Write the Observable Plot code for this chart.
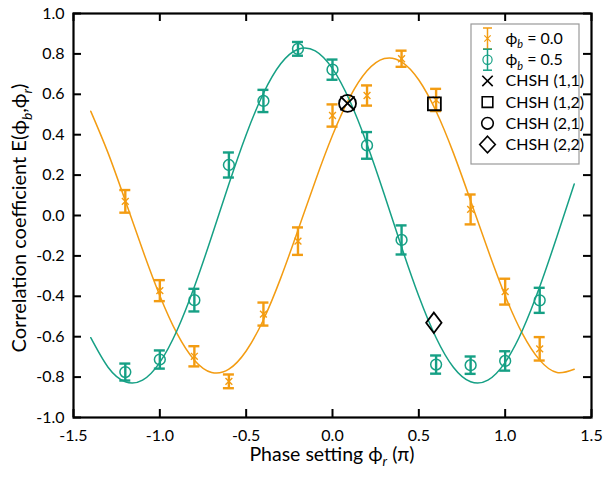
<!DOCTYPE html>
<html><head><meta charset="utf-8">
<script src="https://cdn.jsdelivr.net/npm/d3@7"></script>
<script src="https://cdn.jsdelivr.net/npm/@observablehq/plot@0.6"></script>
<style>
html,body{margin:0;padding:0;background:#fff;}
#chart{width:604px;height:479px;}
</style>
</head><body><div id="chart"></div>
<script>
// ---- data ----
const phase = [-1.2, -1.0, -0.8, -0.6, -0.4, -0.2, 0.0, 0.2, 0.4, 0.6, 0.8, 1.0, 1.2];
const corrB0 = [0.07, -0.372, -0.697, -0.821, -0.488, -0.127, 0.495, 0.594, 0.776, 0.572, 0.03, -0.377, -0.66];
const errB0  = [0.056, 0.052, 0.05, 0.034, 0.057, 0.068, 0.055, 0.05, 0.04, 0.055, 0.074, 0.064, 0.058];
const corrB5 = [-0.775, -0.713, -0.419, 0.25, 0.567, 0.825, 0.722, 0.347, -0.121, -0.738, -0.741, -0.72, -0.42];
const errB5  = [0.042, 0.045, 0.056, 0.062, 0.055, 0.034, 0.05, 0.066, 0.072, 0.045, 0.043, 0.048, 0.062];

const fitPhase = [-1.4, -1.3, -1.2, -1.1, -1.0, -0.9, -0.8, -0.7, -0.6, -0.5, -0.4, -0.3, -0.2, -0.1, 0.0,
                  0.1, 0.2, 0.3, 0.4, 0.5, 0.6, 0.7, 0.8, 0.9, 1.0, 1.1, 1.2, 1.3, 1.4];
const fitB0 = [0.516, 0.310, 0.073, -0.170, -0.397, -0.585, -0.716, -0.777, -0.761, -0.671, -0.516, -0.310, -0.073, 0.170, 0.397,
               0.585, 0.716, 0.777, 0.761, 0.671, 0.516, 0.310, 0.073, -0.170, -0.397, -0.585, -0.716, -0.777, -0.761];
const fitB5 = [-0.605, -0.751, -0.823, -0.815, -0.727, -0.568, -0.353, -0.104, 0.156, 0.400, 0.605, 0.751, 0.823, 0.815, 0.727,
               0.568, 0.353, 0.104, -0.156, -0.400, -0.605, -0.751, -0.823, -0.815, -0.727, -0.568, -0.353, -0.104, 0.156];

const chshLabels = ["CHSH (1,1)", "CHSH (1,2)", "CHSH (2,1)", "CHSH (2,2)"];
const chshPhase  = [0.087, 0.59, 0.087, 0.587];
const chshCorr   = [0.555, 0.553, 0.555, -0.531];

const seriesLabels = ["0.0", "0.5"];
const xTicks = [-1.5, -1.0, -0.5, 0.0, 0.5, 1.0, 1.5];
const yTicks = [-1.0, -0.8, -0.6, -0.4, -0.2, 0.0, 0.2, 0.4, 0.6, 0.8, 1.0];

// ---- styling ----
const ORANGE = "#F39C12", TEAL = "#16A085";
const W = 604, H = 479, mL = 73, mR = 13, mT = 13, mB = 62;
const innerW = W - mL - mR, innerH = H - mT - mB;
const TICK = 8;
const FONT = "Lato, 'DejaVu Sans', sans-serif";
const PHI = "\u03D5";

const s0 = phase.map((x, i) => ({x, y: corrB0[i], e: errB0[i]}));
const s5 = phase.map((x, i) => ({x, y: corrB5[i], e: errB5[i]}));
const f0 = fitPhase.map((x, i) => ({x, y: fitB0[i]}));
const f5 = fitPhase.map((x, i) => ({x, y: fitB5[i]}));
const chsh = chshLabels.map((label, i) => ({label, x: chshPhase[i], y: chshCorr[i]}));

const diamondSymbol = {
  draw(ctx, size) {
    const r = Math.sqrt(size / Math.PI);
    const hw = r, hh = r * 1.32;
    ctx.moveTo(0, -hh); ctx.lineTo(hw, 0); ctx.lineTo(0, hh); ctx.lineTo(-hw, 0); ctx.closePath();
  }
};
const chshSymbols = ["times", "square", "circle", diamondSymbol];
const chshR = [6.5, 7.3, 8.5, 7.7];

function errorBars(data, color) {
  const cap = 5.5;
  return [
    Plot.ruleX(data, {x: "x", y1: d => d.y - d.e, y2: d => d.y + d.e, stroke: color, strokeWidth: 2.4}),
    Plot.ruleY(data, {y: d => d.y - d.e, x1: "x", x2: "x", insetLeft: -cap, insetRight: -cap, stroke: color, strokeWidth: 2.4}),
    Plot.ruleY(data, {y: d => d.y + d.e, x1: "x", x2: "x", insetLeft: -cap, insetRight: -cap, stroke: color, strokeWidth: 2.4})
  ];
}

const svg = Plot.plot({
  width: W, height: H,
  marginLeft: mL, marginRight: mR, marginTop: mT, marginBottom: mB,
  style: {fontFamily: FONT, fontSize: "16px", color: "black", background: "white"},
  x: {domain: [-1.5, 1.5], label: null},
  y: {domain: [-1, 1], label: null},
  marks: [
    Plot.line(f0, {x: "x", y: "y", stroke: ORANGE, strokeWidth: 1.5, curve: "natural"}),
    Plot.line(f5, {x: "x", y: "y", stroke: TEAL, strokeWidth: 1.5, curve: "natural"}),
    ...errorBars(s0, ORANGE),
    ...errorBars(s5, TEAL),
    Plot.dot(s0, {x: "x", y: "y", symbol: "times", r: 3.2, stroke: ORANGE, strokeWidth: 1.4}),
    Plot.dot(s5, {x: "x", y: "y", symbol: "circle", r: 5.4, stroke: TEAL, fill: "none", strokeWidth: 1.5}),
    ...chsh.map((d, i) => Plot.dot([d], {x: "x", y: "y", symbol: chshSymbols[i], r: chshR[i], stroke: "black", fill: "none", strokeWidth: 1.8})),
    // inward ticks on all four sides
    Plot.ruleX(xTicks, {x: d => d, insetTop: innerH - TICK, stroke: "black", strokeWidth: 2}),
    Plot.ruleX(xTicks, {x: d => d, insetBottom: innerH - TICK, stroke: "black", strokeWidth: 2}),
    Plot.ruleY(yTicks, {y: d => d, insetRight: innerW - TICK, stroke: "black", strokeWidth: 2}),
    Plot.ruleY(yTicks, {y: d => d, insetLeft: innerW - TICK, stroke: "black", strokeWidth: 2}),
    Plot.axisX(xTicks, {tickSize: 0, tickPadding: 12, tickFormat: d => d.toFixed(1), fontSize: 16, label: null}),
    Plot.axisY(yTicks, {tickSize: 0, tickPadding: 9, tickFormat: d => d.toFixed(1), fontSize: 16, label: null}),
    Plot.frame({stroke: "black", strokeWidth: 2.2})
  ]
});

document.getElementById("chart").appendChild(svg);

// ---- rich text helpers (subscripts) ----
const root = d3.select(svg);
function rich(textSel, parts, size) {
  let shifted = false;
  parts.forEach(p => {
    const ts = textSel.append("tspan").text(p.t);
    if (p.sub) {
      ts.attr("font-size", size * 0.68).attr("font-style", "italic").attr("dy", size * 0.28);
      shifted = true;
    } else if (shifted) {
      ts.attr("dy", -size * 0.28);
      shifted = false;
    }
  });
}

// axis titles
const xt = root.append("text").attr("x", mL + innerW / 2).attr("y", 461)
  .attr("text-anchor", "middle").attr("font-size", 19.5).attr("font-family", FONT).attr("fill", "black");
rich(xt, [{t: "Phase setting " + PHI}, {t: "r", sub: true}, {t: " (π)"}], 19.5);

const yt = root.append("text").attr("transform", `translate(26,218) rotate(-90)`)
  .attr("text-anchor", "middle").attr("font-size", 20).attr("font-family", FONT).attr("fill", "black");
rich(yt, [{t: "Correlation coefficient E(" + PHI}, {t: "b", sub: true}, {t: "," + PHI}, {t: "r", sub: true}, {t: ")"}], 20);

// ---- legend ----
const LFS = 16;
const lg = root.append("g").attr("font-family", FONT).attr("font-size", LFS).attr("text-anchor", "start");
lg.append("rect").attr("x", 471).attr("y", 24).attr("width", 108).attr("height", 140)
  .attr("fill", "white").attr("stroke", "#999").attr("stroke-width", 1.2);
const symX = 487.5, txtX = 505.5;
const rowY = i => 38.5 + i * 21.2;
[ORANGE, TEAL].forEach((c, i) => {
  const cy = rowY(i);
  lg.append("line").attr("x1", symX).attr("x2", symX).attr("y1", cy - 10.5).attr("y2", cy + 10.5).attr("stroke", c).attr("stroke-width", 1.5);
  lg.append("line").attr("x1", symX - 4.5).attr("x2", symX + 4.5).attr("y1", cy - 10.5).attr("y2", cy - 10.5).attr("stroke", c).attr("stroke-width", 1.5);
  lg.append("line").attr("x1", symX - 4.5).attr("x2", symX + 4.5).attr("y1", cy + 10.5).attr("y2", cy + 10.5).attr("stroke", c).attr("stroke-width", 1.5);
  const sym = i === 0 ? d3.symbolTimes : d3.symbolCircle;
  const r = i === 0 ? 3 : 4.6;
  lg.append("path").attr("transform", `translate(${symX},${cy})`).attr("d", d3.symbol(sym, r * r * Math.PI)())
    .attr("fill", "none").attr("stroke", c).attr("stroke-width", 1.2);
  const t = lg.append("text").attr("x", txtX).attr("y", cy + 5.5).attr("fill", "black").attr("text-anchor", "start");
  rich(t, [{t: PHI}, {t: "b", sub: true}, {t: " = " + seriesLabels[i]}], LFS);
});
const legSyms = [d3.symbolTimes, d3.symbolSquare, d3.symbolCircle, diamondSymbol];
const legR = [4.8, 6.0, 5.8, 7.0];
chshLabels.forEach((label, i) => {
  const cy = rowY(i + 2);
  const r = legR[i];
  const p = i === 3
    ? (() => { const h = 8.3, w = 7.8; return `M0,${-h}L${w},0L0,${h}L${-w},0Z`; })()
    : d3.symbol(legSyms[i], r * r * Math.PI)();
  lg.append("path").attr("transform", `translate(${symX},${cy})`).attr("d", p)
    .attr("fill", "none").attr("stroke", "black").attr("stroke-width", 1.6);
  lg.append("text").attr("x", txtX).attr("y", cy + 5.5).attr("fill", "black").attr("text-anchor", "start").text(label);
});
</script>
</body></html>
